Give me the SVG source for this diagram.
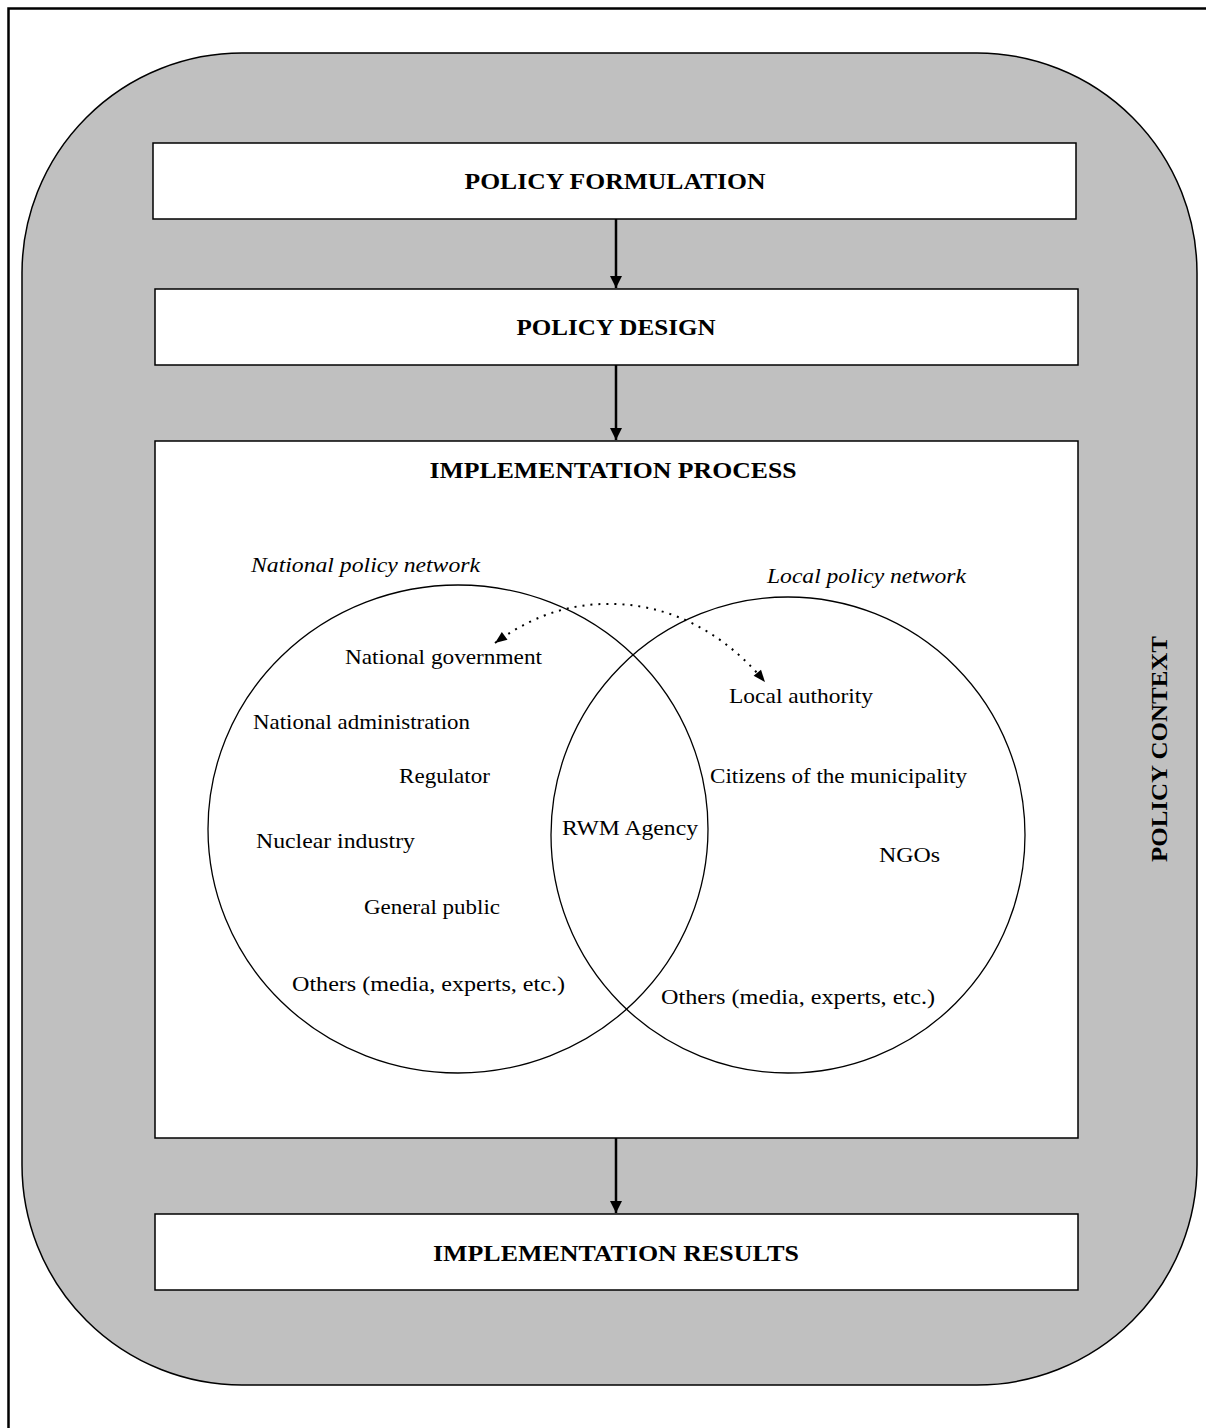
<svg xmlns="http://www.w3.org/2000/svg" width="1206" height="1428" viewBox="0 0 1206 1428">
<defs>
<style>
.box{fill:#fff;stroke:#000;stroke-width:1.5}
.t{font-family:"Liberation Serif","Times New Roman",serif;font-size:22px;fill:#000}
.b{font-weight:bold;text-anchor:middle;font-size:23px}
.i{font-style:italic}
.ln{stroke:#000;stroke-width:2.5;fill:none}
.c{fill:none;stroke:#000;stroke-width:1.3}
</style>
<marker id="ah" viewBox="0 0 10 10" refX="10" refY="5" markerWidth="12" markerHeight="13" markerUnits="userSpaceOnUse" orient="auto">
<path d="M0,0 L10,5 L0,10 z" fill="#000"/>
</marker>
<marker id="ah2" viewBox="0 0 10 10" refX="10" refY="5" markerWidth="13" markerHeight="12" markerUnits="userSpaceOnUse" orient="auto-start-reverse">
<path d="M0,1 L10,5 L0,9 z" fill="#000"/>
</marker>
</defs>
<rect x="0" y="0" width="1206" height="1428" fill="#fff"/>
<rect x="8.5" y="8.5" width="1220" height="1440" fill="none" stroke="#000" stroke-width="2.5"/>
<g id="policy-context">
<rect x="22" y="53" width="1175" height="1332" rx="220" ry="220" fill="#c0c0c0" stroke="#000" stroke-width="1.5"/>
<text class="t b" transform="translate(1167,749) rotate(-90)" textLength="226" lengthAdjust="spacingAndGlyphs">POLICY CONTEXT</text>
</g>
<g id="policy-formulation">
<rect class="box" x="153" y="143" width="923" height="76"/>
<text class="t b" x="615" y="189" textLength="301" lengthAdjust="spacingAndGlyphs">POLICY FORMULATION</text>
</g>
<g id="policy-design">
<rect class="box" x="155" y="289" width="923" height="76"/>
<text class="t b" x="616" y="335" textLength="199" lengthAdjust="spacingAndGlyphs">POLICY DESIGN</text>
</g>
<g id="implementation-process">
<rect class="box" x="155" y="441" width="923" height="697"/>
<text class="t b" x="613" y="478" textLength="367" lengthAdjust="spacingAndGlyphs">IMPLEMENTATION PROCESS</text>
</g>
<g id="national-network">
<ellipse class="c" cx="458" cy="829" rx="250" ry="244"/>
<text class="t i" x="251" y="572" textLength="229" lengthAdjust="spacingAndGlyphs">National policy network</text>
<text class="t" x="345" y="664" textLength="197" lengthAdjust="spacingAndGlyphs">National government</text>
<text class="t" x="253" y="729" textLength="217" lengthAdjust="spacingAndGlyphs">National administration</text>
<text class="t" x="399" y="783" textLength="91" lengthAdjust="spacingAndGlyphs">Regulator</text>
<text class="t" x="256" y="848" textLength="159" lengthAdjust="spacingAndGlyphs">Nuclear industry</text>
<text class="t" x="364" y="914" textLength="136" lengthAdjust="spacingAndGlyphs">General public</text>
<text class="t" x="292" y="991" textLength="273" lengthAdjust="spacingAndGlyphs">Others (media, experts, etc.)</text>
</g>
<g id="local-network">
<ellipse class="c" cx="788" cy="835" rx="237" ry="238"/>
<text class="t i" x="767" y="583" textLength="199" lengthAdjust="spacingAndGlyphs">Local policy network</text>
<text class="t" x="729" y="703" textLength="144" lengthAdjust="spacingAndGlyphs">Local authority</text>
<text class="t" x="710" y="783" textLength="257" lengthAdjust="spacingAndGlyphs">Citizens of the municipality</text>
<text class="t" x="879" y="862" textLength="61" lengthAdjust="spacingAndGlyphs">NGOs</text>
<text class="t" x="661" y="1004" textLength="274" lengthAdjust="spacingAndGlyphs">Others (media, experts, etc.)</text>
</g>
<g id="rwm-agency">
<text class="t" x="562" y="835" textLength="136" lengthAdjust="spacingAndGlyphs">RWM Agency</text>
</g>
<g id="implementation-results">
<rect class="box" x="155" y="1214" width="923" height="76"/>
<text class="t b" x="616" y="1261" textLength="366" lengthAdjust="spacingAndGlyphs">IMPLEMENTATION RESULTS</text>
</g>
<g id="connectors">
<line class="ln" x1="616" y1="219" x2="616" y2="288" marker-end="url(#ah)"/>
<line class="ln" x1="616" y1="365" x2="616" y2="440" marker-end="url(#ah)"/>
<line class="ln" x1="616" y1="1138" x2="616" y2="1213" marker-end="url(#ah)"/>
<path d="M495,643 C540,610 580,603 615,604 C680,606 730,640 765,682" fill="none" stroke="#000" stroke-width="2" stroke-dasharray="2,6" marker-start="url(#ah2)" marker-end="url(#ah2)"/>
</g>
</svg>
